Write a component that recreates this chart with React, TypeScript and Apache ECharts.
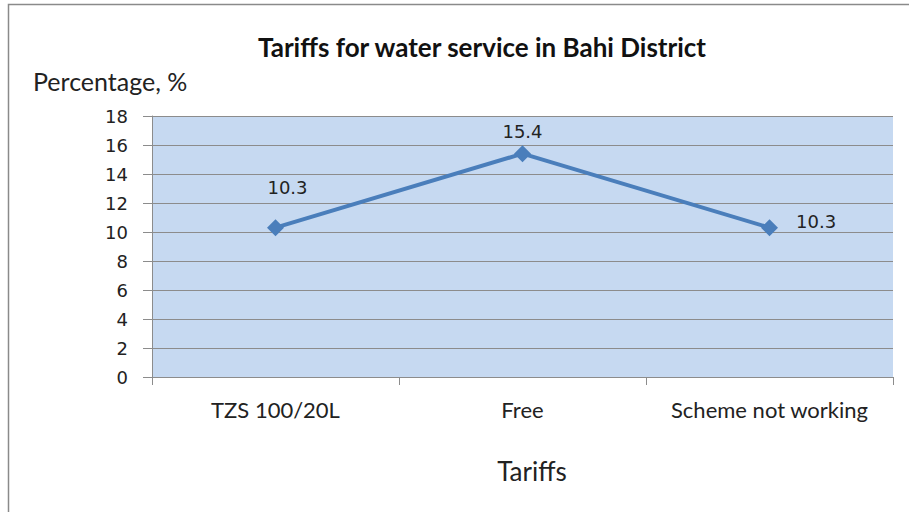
import React, { useEffect, useRef } from "react";
import * as echarts from "echarts";

const categories = ["TZS 100/20L", "Free", "Scheme not working"];
const values = [10.3, 15.4, 10.3];
const yTicks = { min: 0, max: 18, interval: 2 };
const titleText = "Tariffs for water service in Bahi District";
const yAxisTitle = "Percentage, %";
const xAxisTitle = "Tariffs";

export default function App() {
  const ref = useRef<HTMLDivElement>(null);
  useEffect(() => {
    if (!ref.current) return;
    const chart = echarts.init(ref.current, null, { renderer: "svg" });
    const numFont = "'DejaVu Sans', Verdana, sans-serif";
    const textFont = "Lato, 'Open Sans', sans-serif";
    const labelOffsets: any[] = [
      { position: "top", offset: [12, -18] },
      { position: "top", offset: [0, 0] },
      { position: "right", offset: [13, -6] },
    ];
    chart.setOption({
      animation: false,
      backgroundColor: "#ffffff",
      grid: {
        left: 152,
        right: 16,
        top: 116,
        bottom: 135,
        show: true,
        backgroundColor: "#C6D9F1",
        borderWidth: 0,
      },
      graphic: [
        {
          type: "rect",
          shape: { x: 8.5, y: 4.5, width: 1200, height: 1200 },
          style: { fill: "none", stroke: "#8a8a8a", lineWidth: 1.5 },
          silent: true,
          z: 100,
        },
        {
          type: "text",
          x: 482,
          y: 47,
          style: {
            text: titleText,
            font: `bold 26px ${textFont}`,
            fill: "#111",
            textAlign: "center",
            textVerticalAlign: "middle",
          },
        },
        {
          type: "text",
          x: 33,
          y: 81,
          style: {
            text: yAxisTitle,
            font: `25px ${textFont}`,
            fill: "#222",
            textAlign: "left",
            textVerticalAlign: "middle",
          },
        },
        {
          type: "text",
          x: 532,
          y: 471,
          style: {
            text: xAxisTitle,
            font: `26px ${textFont}`,
            fill: "#222",
            textAlign: "center",
            textVerticalAlign: "middle",
          },
        },
      ],
      xAxis: {
        type: "category",
        data: categories,
        boundaryGap: true,
        axisLine: { show: true, lineStyle: { color: "#8c8c8c", width: 1 } },
        axisTick: { show: true, length: 8, lineStyle: { color: "#8c8c8c" } },
        axisLabel: {
          interval: 0,
          hideOverlap: false,
          margin: 21,
          fontSize: 22,
          fontFamily: textFont,
          color: "#222",
        },
        splitLine: { show: false },
      },
      yAxis: {
        type: "value",
        min: yTicks.min,
        max: yTicks.max,
        interval: yTicks.interval,
        axisLine: { show: true, lineStyle: { color: "#8c8c8c", width: 1 } },
        axisTick: { show: true, length: 9, lineStyle: { color: "#8c8c8c" } },
        axisLabel: {
          margin: 24,
          fontSize: 18,
          fontFamily: numFont,
          color: "#222",
        },
        splitLine: { show: true, lineStyle: { color: "#8c8c8c", width: 1 } },
      },
      series: [
        {
          type: "line",
          data: values.map((v, i) => ({
            value: v,
            label: {
              show: true,
              position: labelOffsets[i].position,
              offset: labelOffsets[i].offset,
            },
          })),
          symbol: "diamond",
          symbolSize: 17,
          lineStyle: { color: "#4A7EBB", width: 4 },
          itemStyle: { color: "#4A7EBB" },
          label: {
            show: true,
            fontSize: 18,
            fontFamily: numFont,
            color: "#222",
            distance: 5,
          },
        },
      ],
    });
    return () => chart.dispose();
  }, []);
  return (
    <div
      ref={ref}
      style={{ position: "fixed", left: 0, top: 0, width: 909, height: 512 }}
    />
  );
}
